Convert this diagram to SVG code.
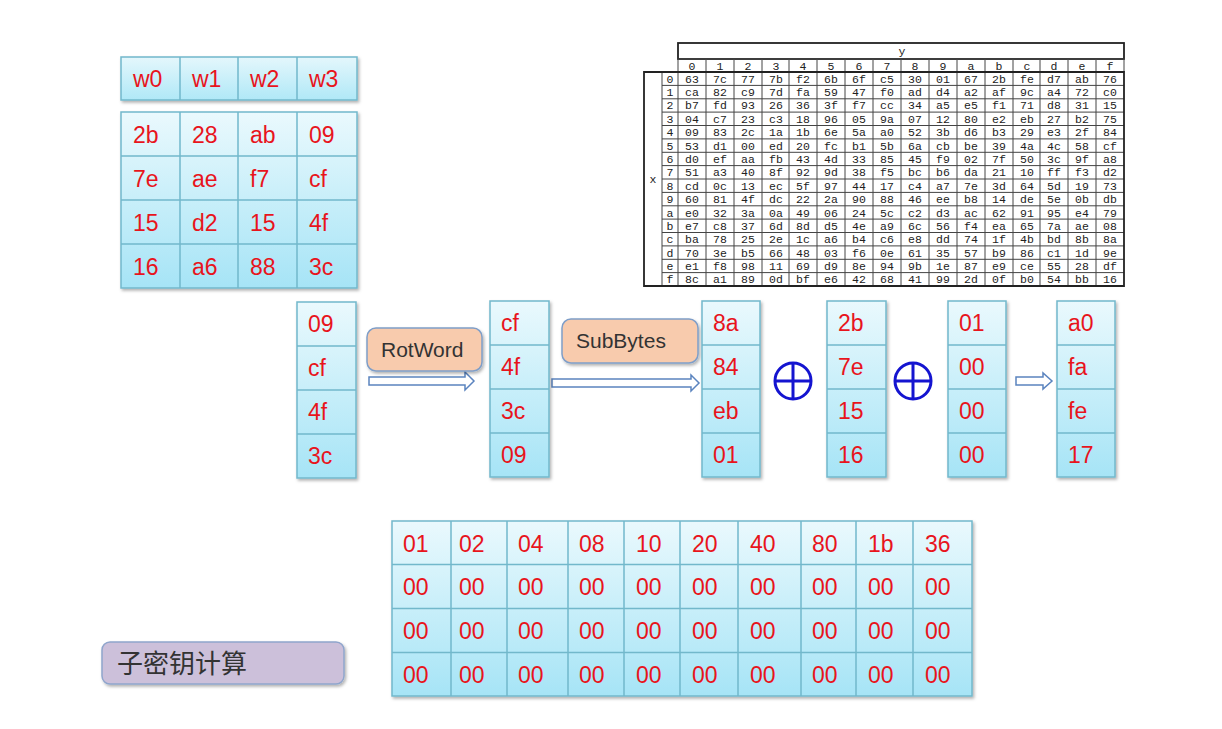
<svg xmlns="http://www.w3.org/2000/svg" width="1222" height="729" viewBox="0 0 1222 729">
<defs>
<linearGradient id="cg" x1="0" y1="0" x2="0" y2="1">
<stop offset="0" stop-color="#eaf9fd"/>
<stop offset="1" stop-color="#a6e4f6"/>
</linearGradient>
<linearGradient id="wg" x1="0" y1="0" x2="0" y2="1">
<stop offset="0" stop-color="#e4f7fc"/>
<stop offset="1" stop-color="#b0e8f7"/>
</linearGradient>
<filter id="sh" x="-10%" y="-10%" width="130%" height="130%">
<feDropShadow dx="1.5" dy="2" stdDeviation="1.5" flood-color="#000" flood-opacity="0.3"/>
</filter>
<style>
.tb{fill:url(#cg);stroke:#72b8cb;stroke-width:1.5;filter:url(#sh)}
.tw{fill:url(#wg);stroke:#72b8cb;stroke-width:1.5;filter:url(#sh)}
.gl{stroke:#72b8cb;stroke-width:1.5;fill:none}
.v{font-family:"Liberation Sans",Arial,sans-serif;font-size:23px;fill:#e8141c}
.lb{font-family:"Liberation Sans",Arial,sans-serif;font-size:21px;fill:#333}
.op{fill:#f8cbad;stroke:#7f9ec8;stroke-width:1.5;filter:url(#sh)}
.ar{fill:#fff;stroke:#5b84bf;stroke-width:1.5}
.xo{fill:none;stroke:#1414d0;stroke-width:3}
.sl{stroke:#444;stroke-width:1;fill:none}
.so{stroke:#222;stroke-width:1.8;fill:none}
.sb{font-family:"Liberation Mono","Courier New",monospace;font-size:11.5px;fill:#222;text-anchor:middle}
</style>
</defs>
<rect width="1222" height="729" fill="#fff"/>

<g id="w-header">
<rect class="tw" x="121" y="57" width="236" height="43"/>
<path class="gl" d="M180,57V100M238,57V100M297,57V100"/>
<text class="v" y="87"><tspan x="133">w0</tspan><tspan x="192">w1</tspan><tspan x="250">w2</tspan><tspan x="309">w3</tspan></text>
</g>

<g id="key-table">
<rect class="tb" x="121" y="112" width="236" height="176"/>
<path class="gl" d="M180,112V288M238,112V288M297,112V288M121,156H357M121,200H357M121,244H357"/>
<text class="v" y="143"><tspan x="133">2b</tspan><tspan x="192">28</tspan><tspan x="250">ab</tspan><tspan x="309">09</tspan></text>
<text class="v" y="187"><tspan x="133">7e</tspan><tspan x="192">ae</tspan><tspan x="250">f7</tspan><tspan x="309">cf</tspan></text>
<text class="v" y="231"><tspan x="133">15</tspan><tspan x="192">d2</tspan><tspan x="250">15</tspan><tspan x="309">4f</tspan></text>
<text class="v" y="275"><tspan x="133">16</tspan><tspan x="192">a6</tspan><tspan x="250">88</tspan><tspan x="309">3c</tspan></text>
</g>

<g id="sbox">
<rect class="so" x="678" y="43" width="446" height="16"/>
<text class="sb" x="902" y="55">y</text>
<rect class="sl" x="678" y="59" width="446" height="13"/>
<path class="sl" d="M706,59V286M734,59V286M762,59V286M789,59V286M817,59V286M845,59V286M873,59V286M901,59V286M929,59V286M957,59V286M985,59V286M1013,59V286M1040,59V286M1068,59V286M1096,59V286"/>
<path class="sl" d="M662,85.4H1124M662,98.8H1124M662,112.1H1124M662,125.5H1124M662,138.9H1124M662,152.3H1124M662,165.6H1124M662,179H1124M662,192.4H1124M662,205.8H1124M662,219.1H1124M662,232.5H1124M662,245.9H1124M662,259.3H1124M662,272.6H1124"/>
<path class="sl" d="M662,72V286M678,72V286"/>
<path class="so" d="M644,72H1124V286H644Z"/>
<text class="sb" x="653" y="183">x</text>
<text class="sb" y="69.5"><tspan x="692">0</tspan><tspan x="720">1</tspan><tspan x="748">2</tspan><tspan x="776">3</tspan><tspan x="803">4</tspan><tspan x="831">5</tspan><tspan x="859">6</tspan><tspan x="887">7</tspan><tspan x="915">8</tspan><tspan x="943">9</tspan><tspan x="971">a</tspan><tspan x="999">b</tspan><tspan x="1027">c</tspan><tspan x="1054">d</tspan><tspan x="1082">e</tspan><tspan x="1110">f</tspan></text>
<text class="sb" x="670"><tspan x="670" y="82.7">0</tspan><tspan x="670" y="96.1">1</tspan><tspan x="670" y="109.4">2</tspan><tspan x="670" y="122.8">3</tspan><tspan x="670" y="136.2">4</tspan><tspan x="670" y="149.6">5</tspan><tspan x="670" y="163">6</tspan><tspan x="670" y="176.3">7</tspan><tspan x="670" y="189.7">8</tspan><tspan x="670" y="203.1">9</tspan><tspan x="670" y="216.5">a</tspan><tspan x="670" y="229.8">b</tspan><tspan x="670" y="243.2">c</tspan><tspan x="670" y="256.6">d</tspan><tspan x="670" y="270">e</tspan><tspan x="670" y="283.3">f</tspan></text>
<text class="sb" y="82.7"><tspan x="692">63</tspan><tspan x="720">7c</tspan><tspan x="748">77</tspan><tspan x="776">7b</tspan><tspan x="803">f2</tspan><tspan x="831">6b</tspan><tspan x="859">6f</tspan><tspan x="887">c5</tspan><tspan x="915">30</tspan><tspan x="943">01</tspan><tspan x="971">67</tspan><tspan x="999">2b</tspan><tspan x="1027">fe</tspan><tspan x="1054">d7</tspan><tspan x="1082">ab</tspan><tspan x="1110">76</tspan></text>
<text class="sb" y="96.1"><tspan x="692">ca</tspan><tspan x="720">82</tspan><tspan x="748">c9</tspan><tspan x="776">7d</tspan><tspan x="803">fa</tspan><tspan x="831">59</tspan><tspan x="859">47</tspan><tspan x="887">f0</tspan><tspan x="915">ad</tspan><tspan x="943">d4</tspan><tspan x="971">a2</tspan><tspan x="999">af</tspan><tspan x="1027">9c</tspan><tspan x="1054">a4</tspan><tspan x="1082">72</tspan><tspan x="1110">c0</tspan></text>
<text class="sb" y="109.4"><tspan x="692">b7</tspan><tspan x="720">fd</tspan><tspan x="748">93</tspan><tspan x="776">26</tspan><tspan x="803">36</tspan><tspan x="831">3f</tspan><tspan x="859">f7</tspan><tspan x="887">cc</tspan><tspan x="915">34</tspan><tspan x="943">a5</tspan><tspan x="971">e5</tspan><tspan x="999">f1</tspan><tspan x="1027">71</tspan><tspan x="1054">d8</tspan><tspan x="1082">31</tspan><tspan x="1110">15</tspan></text>
<text class="sb" y="122.8"><tspan x="692">04</tspan><tspan x="720">c7</tspan><tspan x="748">23</tspan><tspan x="776">c3</tspan><tspan x="803">18</tspan><tspan x="831">96</tspan><tspan x="859">05</tspan><tspan x="887">9a</tspan><tspan x="915">07</tspan><tspan x="943">12</tspan><tspan x="971">80</tspan><tspan x="999">e2</tspan><tspan x="1027">eb</tspan><tspan x="1054">27</tspan><tspan x="1082">b2</tspan><tspan x="1110">75</tspan></text>
<text class="sb" y="136.2"><tspan x="692">09</tspan><tspan x="720">83</tspan><tspan x="748">2c</tspan><tspan x="776">1a</tspan><tspan x="803">1b</tspan><tspan x="831">6e</tspan><tspan x="859">5a</tspan><tspan x="887">a0</tspan><tspan x="915">52</tspan><tspan x="943">3b</tspan><tspan x="971">d6</tspan><tspan x="999">b3</tspan><tspan x="1027">29</tspan><tspan x="1054">e3</tspan><tspan x="1082">2f</tspan><tspan x="1110">84</tspan></text>
<text class="sb" y="149.6"><tspan x="692">53</tspan><tspan x="720">d1</tspan><tspan x="748">00</tspan><tspan x="776">ed</tspan><tspan x="803">20</tspan><tspan x="831">fc</tspan><tspan x="859">b1</tspan><tspan x="887">5b</tspan><tspan x="915">6a</tspan><tspan x="943">cb</tspan><tspan x="971">be</tspan><tspan x="999">39</tspan><tspan x="1027">4a</tspan><tspan x="1054">4c</tspan><tspan x="1082">58</tspan><tspan x="1110">cf</tspan></text>
<text class="sb" y="163"><tspan x="692">d0</tspan><tspan x="720">ef</tspan><tspan x="748">aa</tspan><tspan x="776">fb</tspan><tspan x="803">43</tspan><tspan x="831">4d</tspan><tspan x="859">33</tspan><tspan x="887">85</tspan><tspan x="915">45</tspan><tspan x="943">f9</tspan><tspan x="971">02</tspan><tspan x="999">7f</tspan><tspan x="1027">50</tspan><tspan x="1054">3c</tspan><tspan x="1082">9f</tspan><tspan x="1110">a8</tspan></text>
<text class="sb" y="176.3"><tspan x="692">51</tspan><tspan x="720">a3</tspan><tspan x="748">40</tspan><tspan x="776">8f</tspan><tspan x="803">92</tspan><tspan x="831">9d</tspan><tspan x="859">38</tspan><tspan x="887">f5</tspan><tspan x="915">bc</tspan><tspan x="943">b6</tspan><tspan x="971">da</tspan><tspan x="999">21</tspan><tspan x="1027">10</tspan><tspan x="1054">ff</tspan><tspan x="1082">f3</tspan><tspan x="1110">d2</tspan></text>
<text class="sb" y="189.7"><tspan x="692">cd</tspan><tspan x="720">0c</tspan><tspan x="748">13</tspan><tspan x="776">ec</tspan><tspan x="803">5f</tspan><tspan x="831">97</tspan><tspan x="859">44</tspan><tspan x="887">17</tspan><tspan x="915">c4</tspan><tspan x="943">a7</tspan><tspan x="971">7e</tspan><tspan x="999">3d</tspan><tspan x="1027">64</tspan><tspan x="1054">5d</tspan><tspan x="1082">19</tspan><tspan x="1110">73</tspan></text>
<text class="sb" y="203.1"><tspan x="692">60</tspan><tspan x="720">81</tspan><tspan x="748">4f</tspan><tspan x="776">dc</tspan><tspan x="803">22</tspan><tspan x="831">2a</tspan><tspan x="859">90</tspan><tspan x="887">88</tspan><tspan x="915">46</tspan><tspan x="943">ee</tspan><tspan x="971">b8</tspan><tspan x="999">14</tspan><tspan x="1027">de</tspan><tspan x="1054">5e</tspan><tspan x="1082">0b</tspan><tspan x="1110">db</tspan></text>
<text class="sb" y="216.5"><tspan x="692">e0</tspan><tspan x="720">32</tspan><tspan x="748">3a</tspan><tspan x="776">0a</tspan><tspan x="803">49</tspan><tspan x="831">06</tspan><tspan x="859">24</tspan><tspan x="887">5c</tspan><tspan x="915">c2</tspan><tspan x="943">d3</tspan><tspan x="971">ac</tspan><tspan x="999">62</tspan><tspan x="1027">91</tspan><tspan x="1054">95</tspan><tspan x="1082">e4</tspan><tspan x="1110">79</tspan></text>
<text class="sb" y="229.8"><tspan x="692">e7</tspan><tspan x="720">c8</tspan><tspan x="748">37</tspan><tspan x="776">6d</tspan><tspan x="803">8d</tspan><tspan x="831">d5</tspan><tspan x="859">4e</tspan><tspan x="887">a9</tspan><tspan x="915">6c</tspan><tspan x="943">56</tspan><tspan x="971">f4</tspan><tspan x="999">ea</tspan><tspan x="1027">65</tspan><tspan x="1054">7a</tspan><tspan x="1082">ae</tspan><tspan x="1110">08</tspan></text>
<text class="sb" y="243.2"><tspan x="692">ba</tspan><tspan x="720">78</tspan><tspan x="748">25</tspan><tspan x="776">2e</tspan><tspan x="803">1c</tspan><tspan x="831">a6</tspan><tspan x="859">b4</tspan><tspan x="887">c6</tspan><tspan x="915">e8</tspan><tspan x="943">dd</tspan><tspan x="971">74</tspan><tspan x="999">1f</tspan><tspan x="1027">4b</tspan><tspan x="1054">bd</tspan><tspan x="1082">8b</tspan><tspan x="1110">8a</tspan></text>
<text class="sb" y="256.6"><tspan x="692">70</tspan><tspan x="720">3e</tspan><tspan x="748">b5</tspan><tspan x="776">66</tspan><tspan x="803">48</tspan><tspan x="831">03</tspan><tspan x="859">f6</tspan><tspan x="887">0e</tspan><tspan x="915">61</tspan><tspan x="943">35</tspan><tspan x="971">57</tspan><tspan x="999">b9</tspan><tspan x="1027">86</tspan><tspan x="1054">c1</tspan><tspan x="1082">1d</tspan><tspan x="1110">9e</tspan></text>
<text class="sb" y="270"><tspan x="692">e1</tspan><tspan x="720">f8</tspan><tspan x="748">98</tspan><tspan x="776">11</tspan><tspan x="803">69</tspan><tspan x="831">d9</tspan><tspan x="859">8e</tspan><tspan x="887">94</tspan><tspan x="915">9b</tspan><tspan x="943">1e</tspan><tspan x="971">87</tspan><tspan x="999">e9</tspan><tspan x="1027">ce</tspan><tspan x="1054">55</tspan><tspan x="1082">28</tspan><tspan x="1110">df</tspan></text>
<text class="sb" y="283.3"><tspan x="692">8c</tspan><tspan x="720">a1</tspan><tspan x="748">89</tspan><tspan x="776">0d</tspan><tspan x="803">bf</tspan><tspan x="831">e6</tspan><tspan x="859">42</tspan><tspan x="887">68</tspan><tspan x="915">41</tspan><tspan x="943">99</tspan><tspan x="971">2d</tspan><tspan x="999">0f</tspan><tspan x="1027">b0</tspan><tspan x="1054">54</tspan><tspan x="1082">bb</tspan><tspan x="1110">16</tspan></text>
</g>

<g id="connectors">
<path class="ar" d="M369,377H465V372L474,381L465,390V385H369Z"/>
<path class="ar" d="M552,379H691V375L699,383L691,391V387H552Z"/>
<path class="ar" d="M1016,377H1043V373L1052,381L1043,389V385H1016Z"/>
</g>

<g id="col-w3">
<rect class="tb" x="297" y="302" width="59" height="176"/>
<path class="gl" d="M297,346H356M297,390H356M297,434H356"/>
<text class="v" x="308"><tspan x="308" y="332">09</tspan><tspan x="308" y="376">cf</tspan><tspan x="308" y="420">4f</tspan><tspan x="308" y="464">3c</tspan></text>
</g>

<g id="rotword">
<rect class="op" x="367" y="328" width="115" height="43" rx="9"/>
<text class="lb" x="381" y="357">RotWord</text>
</g>

<g id="col-rot">
<rect class="tb" x="490" y="301" width="59" height="176"/>
<path class="gl" d="M490,345H549M490,389H549M490,433H549"/>
<text class="v"><tspan x="501" y="331">cf</tspan><tspan x="501" y="375">4f</tspan><tspan x="501" y="419">3c</tspan><tspan x="501" y="463">09</tspan></text>
</g>

<g id="subbytes">
<rect class="op" x="562" y="319" width="136" height="44" rx="9"/>
<text class="lb" x="576" y="348">SubBytes</text>
</g>

<g id="col-sub">
<rect class="tb" x="702" y="301" width="58" height="176"/>
<path class="gl" d="M702,345H760M702,389H760M702,433H760"/>
<text class="v"><tspan x="713" y="331">8a</tspan><tspan x="713" y="375">84</tspan><tspan x="713" y="419">eb</tspan><tspan x="713" y="463">01</tspan></text>
</g>

<g id="xor1">
<circle class="xo" cx="793" cy="381" r="18"/>
<path class="xo" d="M775,381H811M793,363V399"/>
</g>

<g id="col-w0">
<rect class="tb" x="827" y="301" width="59" height="176"/>
<path class="gl" d="M827,345H886M827,389H886M827,433H886"/>
<text class="v"><tspan x="838" y="331">2b</tspan><tspan x="838" y="375">7e</tspan><tspan x="838" y="419">15</tspan><tspan x="838" y="463">16</tspan></text>
</g>

<g id="xor2">
<circle class="xo" cx="913" cy="381" r="18"/>
<path class="xo" d="M895,381H931M913,363V399"/>
</g>

<g id="col-rcon">
<rect class="tb" x="948" y="301" width="58" height="176"/>
<path class="gl" d="M948,345H1006M948,389H1006M948,433H1006"/>
<text class="v"><tspan x="959" y="331">01</tspan><tspan x="959" y="375">00</tspan><tspan x="959" y="419">00</tspan><tspan x="959" y="463">00</tspan></text>
</g>

<g id="col-w4">
<rect class="tb" x="1057" y="301" width="58" height="176"/>
<path class="gl" d="M1057,345H1115M1057,389H1115M1057,433H1115"/>
<text class="v"><tspan x="1068" y="331">a0</tspan><tspan x="1068" y="375">fa</tspan><tspan x="1068" y="419">fe</tspan><tspan x="1068" y="463">17</tspan></text>
</g>

<g id="rcon-table">
<rect class="tb" x="392" y="521" width="580" height="175"/>
<path class="gl" d="M451,521V696M507,521V696M568,521V696M624,521V696M680,521V696M738,521V696M801,521V696M856,521V696M913,521V696M392,564.5H972M392,608.5H972M392,652.5H972"/>
<text class="v" y="552"><tspan x="403">01</tspan><tspan x="459">02</tspan><tspan x="518">04</tspan><tspan x="579">08</tspan><tspan x="636">10</tspan><tspan x="692">20</tspan><tspan x="750">40</tspan><tspan x="812">80</tspan><tspan x="868">1b</tspan><tspan x="925">36</tspan></text>
<text class="v" y="595"><tspan x="403">00</tspan><tspan x="459">00</tspan><tspan x="518">00</tspan><tspan x="579">00</tspan><tspan x="636">00</tspan><tspan x="692">00</tspan><tspan x="750">00</tspan><tspan x="812">00</tspan><tspan x="868">00</tspan><tspan x="925">00</tspan></text>
<text class="v" y="639"><tspan x="403">00</tspan><tspan x="459">00</tspan><tspan x="518">00</tspan><tspan x="579">00</tspan><tspan x="636">00</tspan><tspan x="692">00</tspan><tspan x="750">00</tspan><tspan x="812">00</tspan><tspan x="868">00</tspan><tspan x="925">00</tspan></text>
<text class="v" y="683"><tspan x="403">00</tspan><tspan x="459">00</tspan><tspan x="518">00</tspan><tspan x="579">00</tspan><tspan x="636">00</tspan><tspan x="692">00</tspan><tspan x="750">00</tspan><tspan x="812">00</tspan><tspan x="868">00</tspan><tspan x="925">00</tspan></text>
</g>

<g id="title">
<rect x="102" y="642" width="242" height="42" rx="8" fill="#ccc0da" stroke="#8fa5cc" stroke-width="1.5" filter="url(#sh)"/>
<text x="117" y="673" font-family="'Noto Sans CJK SC',sans-serif" font-size="26" fill="#333">子密钥计算</text>
</g>
</svg>
